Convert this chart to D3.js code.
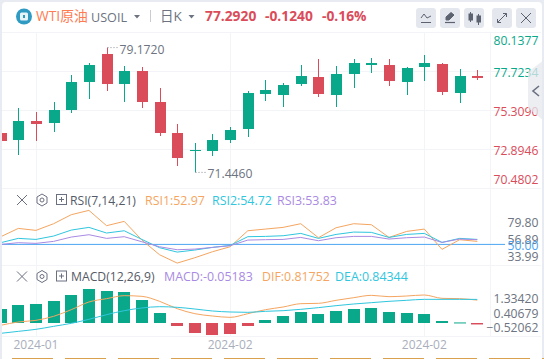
<!DOCTYPE html>
<html>
<head>
<meta charset="utf-8">
<script src="https://cdn.jsdelivr.net/npm/d3@7"></script>
<style>
html, body { margin: 0; padding: 0; background: #fff; }
svg { display: block; }
text { font-family: "Open Sans", "Noto Sans CJK SC", sans-serif; }
</style>
</head>
<body>
<svg id="drawing_region"></svg>
<script>
const candleIndex = d3.range(28);
const opens  = [73.885, 73.451, 74.628, 74.504, 75.309, 77.042, 78.776, 76.918, 77.723, 75.804, 73.885, 72.771, 72.771, 73.451, 74.133, 76.299, 76.237, 76.918, 77.352, 76.237, 77.538, 78.095, 78.095, 77.042, 77.971, 78.157, 76.361, 77.414];
const closes = [73.390, 74.628, 74.442, 75.309, 77.042, 78.095, 76.918, 77.723, 75.804, 73.885, 72.337, 72.833, 73.451, 74.071, 76.361, 76.547, 76.856, 77.414, 76.299, 77.538, 78.218, 78.218, 77.104, 77.909, 78.218, 76.423, 77.414, 77.292];
const highs  = [73.885, 75.433, 75.185, 75.804, 77.476, 78.218, 79.172, 78.033, 77.971, 76.671, 74.442, 73.266, 73.823, 74.256, 76.485, 77.166, 76.980, 78.095, 78.466, 78.033, 78.466, 78.528, 78.466, 77.971, 78.714, 78.218, 77.847, 77.785];
const lows   = [73.390, 72.523, 73.390, 73.947, 75.123, 75.990, 76.485, 75.804, 75.433, 73.699, 71.842, 71.446, 72.461, 73.266, 73.637, 75.866, 75.495, 76.795, 76.114, 75.495, 76.671, 77.600, 76.795, 76.237, 77.104, 76.237, 75.742, 77.166];

const rsi1 = [60.4, 71.8, 69.1, 78.2, 90.5, 96.4, 75.5, 81.4, 55.9, 35.9, 24.5, 31.8, 40.0, 46.8, 68.6, 70.9, 73.2, 78.2, 59.1, 72.7, 78.2, 76.8, 59.5, 67.7, 70.9, 43.2, 56.4, 54.1];
const rsi2 = [52.3, 58.2, 56.8, 61.4, 69.5, 73.2, 65.5, 68.6, 56.8, 45.5, 39.5, 42.3, 45.9, 48.6, 60.5, 60.9, 61.8, 65.0, 58.2, 63.6, 66.8, 66.4, 59.5, 63.6, 65.0, 52.7, 58.2, 56.8];
const rsi3 = [50.0, 52.3, 51.4, 54.1, 60.0, 63.2, 58.2, 60.5, 53.6, 46.8, 42.7, 43.6, 45.9, 48.2, 55.9, 56.4, 56.8, 59.5, 55.0, 59.1, 60.9, 60.9, 57.3, 59.1, 60.0, 52.7, 57.3, 56.4];

const macdBars = [0.500, 0.643, 0.679, 0.786, 1.000, 1.214, 1.143, 1.107, 0.821, 0.357, -0.107, -0.357, -0.429, -0.393, -0.107, 0.107, 0.250, 0.393, 0.321, 0.429, 0.500, 0.536, 0.393, 0.357, 0.321, 0.071, 0.020, -0.052];
const dif = [-0.083, 0.036, 0.095, 0.238, 0.476, 0.750, 0.869, 0.976, 0.952, 0.774, 0.512, 0.333, 0.250, 0.202, 0.333, 0.476, 0.571, 0.690, 0.702, 0.810, 0.905, 0.988, 0.940, 0.964, 1.000, 0.881, 0.869, 0.818];
const dea = [-0.369, -0.298, -0.226, -0.119, -0.012, 0.131, 0.298, 0.440, 0.536, 0.583, 0.560, 0.500, 0.429, 0.393, 0.381, 0.417, 0.440, 0.488, 0.548, 0.619, 0.679, 0.726, 0.774, 0.810, 0.845, 0.845, 0.845, 0.843];

const priceTicks = [80.1377, 77.7234, 75.3090, 72.8946, 70.4802];
const rsiTicks = [79.80, 56.89, 50.00, 33.99];
const macdTicks = [1.33420, 0.40679, -0.52062];
const dateTicks = [2, 13, 24];
const dateLabels = ["2024-01", "2024-02", "2024-02"];

const UP = "#0aa88b", DOWN = "#db4c5a", ORANGE = "#f5a560", CYAN = "#2fc6de", PURPLE = "#a98ae3", BLUE = "#4ba5f2";
const GRID = "#f3f4f7", TEXT_GREY = "#6d7380";

const width = 544, height = 359;
const left = 2, plotRight = 490;

const svg = d3.select("#drawing_region").attr("width", width).attr("height", height);

// page behind the card
svg.append("rect").attr("width", width).attr("height", height).attr("fill", "#e8ebf1");
svg.append("rect").attr("x", left).attr("y", 2).attr("width", 540).attr("height", 360).attr("rx", 4).attr("fill", "#fff");

const x = d3.scalePoint().domain(candleIndex).range([0.65, 477.3]);
const y = d3.scaleLinear().domain([80.1377, 70.4802]).range([32, 188]);
const yRsi = d3.scaleLinear().domain([126.9, 21.9]).range([188, 265]);
const yMacd = d3.scaleLinear().domain([2.071, -0.464]).range([265, 336]);
// the site prints the macd labels on their own spacing, they do not line up with the bars
const yMacdLabel = d3.scaleLinear().domain([1.33420, -0.52062]).range([298.7, 327.7]);

svg.append("clipPath").attr("id", "plot").append("rect")
    .attr("x", left).attr("y", 30).attr("width", plotRight - left).attr("height", 310);

// grid
const grid = svg.append("g").attr("stroke", GRID).attr("fill", "none");
grid.selectAll("line.h").data(priceTicks).join("line").attr("class", "h")
    .attr("x1", left).attr("x2", 541).attr("y1", d => Math.round(y(d)) + .5).attr("y2", d => Math.round(y(d)) + .5);
grid.selectAll("line.p").data([265, 336]).join("line").attr("class", "p")
    .attr("x1", left).attr("x2", 541).attr("y1", d => d + .5).attr("y2", d => d + .5);
grid.selectAll("line.v").data(dateTicks).join("line").attr("class", "v")
    .attr("x1", d => Math.round(x(d)) + .5).attr("x2", d => Math.round(x(d)) + .5).attr("y1", 33).attr("y2", 336);
grid.append("line").attr("x1", plotRight + .5).attr("x2", plotRight + .5).attr("y1", 33).attr("y2", 336);

const plot = svg.append("g").attr("clip-path", "url(#plot)");

// candles
const candles = plot.append("g").selectAll("g").data(candleIndex).join("g")
    .attr("fill", i => closes[i] >= opens[i] ? UP : DOWN)
    .attr("stroke", i => closes[i] >= opens[i] ? UP : DOWN);
candles.append("line")
    .attr("x1", i => Math.round(x(i)) + .5).attr("x2", i => Math.round(x(i)) + .5)
    .attr("y1", i => y(highs[i])).attr("y2", i => y(lows[i]));
candles.append("rect")
    .attr("stroke", "none")
    .attr("x", i => Math.round(x(i)) - 5).attr("width", 11)
    .attr("y", i => y(Math.max(opens[i], closes[i])))
    .attr("height", i => Math.max(1, Math.abs(y(opens[i]) - y(closes[i]))));

// rsi pane
plot.append("line").attr("x1", left).attr("x2", 505).attr("y1", yRsi(50)).attr("y2", yRsi(50)).attr("stroke", BLUE);
svg.append("line").attr("x1", plotRight).attr("x2", 505).attr("y1", yRsi(50)).attr("y2", yRsi(50)).attr("stroke", BLUE);
const rsiLine = d3.line().x((d, i) => x(i)).y(d => yRsi(d));
[[rsi1, ORANGE], [rsi2, CYAN], [rsi3, PURPLE]].forEach(([values, colour]) => {
    plot.append("path").datum(values).attr("d", rsiLine).attr("fill", "none").attr("stroke", colour);
});

// macd pane
plot.append("g").selectAll("rect").data(macdBars).join("rect")
    .attr("x", (d, i) => Math.round(x(i)) - 6).attr("width", 12)
    .attr("y", d => Math.min(yMacd(d), yMacd(0)))
    .attr("height", d => Math.max(1, Math.abs(yMacd(d) - yMacd(0))))
    .attr("fill", d => d >= 0 ? UP : DOWN);
const macdLine = d3.line().x((d, i) => x(i)).y(d => yMacd(d)).curve(d3.curveMonotoneX);
[[dif, ORANGE], [dea, CYAN]].forEach(([values, colour]) => {
    plot.append("path").datum(values).attr("d", macdLine).attr("fill", "none").attr("stroke", colour);
});

// axes on the right, all anchored to the same edge
function rightAxis(scale, ticks, format, colour, nudge) {
    const g = svg.append("g").attr("transform", "translate(538.5,0)")
        .call(d3.axisRight(scale).tickValues(ticks).tickSize(0).tickFormat(format));
    g.select(".domain").remove();
    g.selectAll("text")
        .attr("x", 0).attr("text-anchor", "end").attr("font-size", 12.2)
        .style("font-family", '"Open Sans", sans-serif')
        .attr("dy", "0.32em")
        .attr("transform", (d, i) => `translate(0,${nudge(d, i)})`)
        .attr("fill", colour);
}
rightAxis(y, priceTicks, d3.format(".4f"), d => d > 76 ? UP : DOWN, (d, i) => i == 0 ? 8.7 : i == 4 ? -8 : 1.7);
rightAxis(yRsi, rsiTicks, d3.format(".2f"), d => d == 50 ? BLUE : TEXT_GREY, d => d == 50 ? 1.6 : .2);
rightAxis(yMacdLabel, macdTicks, d3.format(".5f"), TEXT_GREY, () => 0);

// collapse tab over the price axis
svg.append("path").attr("d", "M544,60L528,72V108L544,121Z").attr("fill", "#e6e8ee").attr("opacity", .75);
svg.append("path").attr("d", "M539,86L533,91L539,96").attr("fill", "none").attr("stroke", "#6a7080").attr("stroke-width", 1.6);

// date labels
svg.append("g").selectAll("text").data(dateTicks).join("text")
    .attr("x", d => x(d)).attr("y", 349).attr("text-anchor", "middle")
    .attr("font-size", 12).attr("fill", "#a9aebb")
    .text((d, i) => dateLabels[i]);

// high and low markers
function marker(i, value) {
    const px = Math.round(x(i)) + .5, py = y(value);
    svg.append("line").attr("x1", px).attr("x2", px + 11).attr("y1", py).attr("y2", py)
        .attr("stroke", "#8b909b").attr("stroke-dasharray", "1,2");
    svg.append("text").attr("x", px + 12).attr("y", py + 6).attr("font-size", 12.2).attr("fill", TEXT_GREY)
        .text(d3.format(".4f")(value));
}
marker(6, 79.172);
marker(11, 71.446);

// header
svg.append("circle").attr("cx", 24).attr("cy", 16.5).attr("r", 8).attr("fill", "#2f9bc2");
svg.append("rect").attr("x", 20).attr("y", 12.5).attr("width", 8).attr("height", 8).attr("rx", 1.5).attr("fill", "#e8f4f8");
svg.append("rect").attr("x", 23).attr("y", 15).attr("width", 2).attr("height", 3).attr("fill", "#2f9bc2");

function label(px, py, str, colour, size, weight) {
    return svg.append("text").attr("x", px).attr("y", py).attr("fill", colour)
        .attr("font-size", size).attr("font-weight", weight || 400).text(str);
}
label(36, 20.5, "WTI原油", "#ff7b52", 13.8);
label(91, 22, "USOIL", TEXT_GREY, 12.6);
label(160, 20.5, "日K", TEXT_GREY, 13.5);
label(205, 20.5, "77.2920", DOWN, 13.8, 700);
label(265, 20.5, "-0.1240", DOWN, 13.8, 700);
label(322, 20.5, "-0.16%", DOWN, 13.8, 700);
svg.append("path").attr("d", "M134,15h6l-3,3.5ZM188.500,15h6l-3,3.5Z").attr("fill", TEXT_GREY);
svg.append("line").attr("x1", 150.5).attr("x2", 150.5).attr("y1", 10).attr("y2", 22).attr("stroke", "#c9ccd3");

// toolbar buttons
const buttonX = [416, 440, 464, 492, 516];
svg.append("g").selectAll("rect").data(buttonX).join("rect")
    .attr("x", d => d).attr("y", 8).attr("width", 20).attr("height", 20).attr("rx", 3).attr("fill", "#e4e7ee");
const icons = svg.append("g").attr("fill", "none").attr("stroke", "#5c6270");
icons.append("path").attr("d", "M421,22.500H431M421,18L424,14L427,18L431,16");
icons.append("path").attr("d", "M445,22.500H455").attr("stroke-width", 1.2);
icons.append("path").attr("d", "M446,20L446,17L451,12.500L454,15L449,20Z").attr("fill", "#5c6270");
icons.append("path").attr("d", "M470.500,12V22M478.500,14V25").attr("stroke-width", 1);
icons.append("rect").attr("x", 469).attr("y", 14).attr("width", 3.500).attr("height", 6).attr("fill", "#5c6270");
icons.append("rect").attr("x", 477).attr("y", 16).attr("width", 3.500).attr("height", 6).attr("fill", "#5c6270");
icons.append("path").attr("d", "M497.500,22.500L506.500,13.500M503,13.500H506.500V17M497.500,19V22.500H501");
icons.append("path").attr("d", "M521,13L531,23M531,13L521,23");

// indicator legends
function paneHeader(cy, title, titleX) {
    const g = svg.append("g").attr("fill", "none").attr("stroke", "#6a7080");
    g.append("path").attr("d", `M17,${cy - 5}L27,${cy + 5}M27,${cy - 5}L17,${cy + 5}`);
    g.append("path").attr("d", `M42,${cy - 6}L47,${cy - 3}V${cy + 3}L42,${cy + 6}L37,${cy + 3}V${cy - 3}Z`);
    g.append("circle").attr("cx", 42).attr("cy", cy).attr("r", 2);
    g.append("rect").attr("x", 56.5).attr("y", cy - 5.500).attr("width", 10).attr("height", 10);
    g.append("path").attr("d", `M59,${cy - .5}H64M61.500,${cy - 3}V${cy + 2}`);
    label(titleX, cy + 4.500, title, "#555a66", 12.2);
}
paneHeader(200, "RSI(7,14,21)", 70);
label(145, 204.5, "RSI1:52.97", ORANGE, 12.4);
label(212, 204.5, "RSI2:54.72", CYAN, 12.4);
label(277, 204.5, "RSI3:53.83", PURPLE, 12.4);
paneHeader(276.500, "MACD(12,26,9)", 71);
label(164, 281, "MACD:-0.05183", PURPLE, 12.4);
label(262, 281, "DIF:0.81752", ORANGE, 12.4);
label(335, 281, "DEA:0.84344", CYAN, 12.4);

// strip of the next page element at the very bottom
svg.append("line").attr("x1", 12).attr("x2", 544).attr("y1", 358.5).attr("y2", 358.5)
    .attr("stroke", "#d9a04d").attr("stroke-dasharray", "41,12");
</script>
</body>
</html>
